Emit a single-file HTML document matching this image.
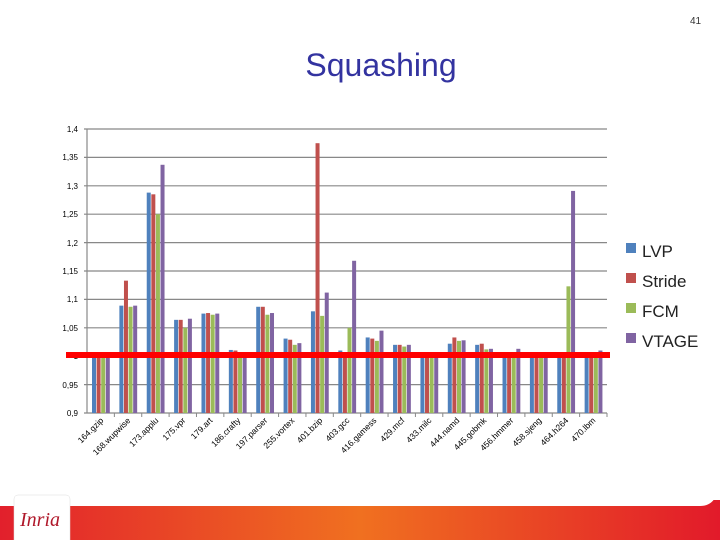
<!DOCTYPE html>
<html><head><meta charset="utf-8"><style>
html,body{margin:0;padding:0;width:720px;height:540px;overflow:hidden;background:#fff;font-family:"Liberation Sans",sans-serif}
</style></head><body>
<svg id="s" width="720" height="540" xmlns="http://www.w3.org/2000/svg">
<defs><linearGradient id="g" x1="0" x2="1"><stop offset="0" stop-color="#e2202c"/><stop offset="0.5" stop-color="#f07020"/><stop offset="1" stop-color="#e21a2a"/></linearGradient></defs>
<rect x="0" y="500" width="720" height="40" fill="url(#g)"/>
<path d="M0 0 H720 V480 Q718 506 700 506 H0 Z" fill="#fff"/>
<rect x="14" y="495" width="56" height="50" rx="4" fill="#fff" stroke="#ddd" stroke-width="0.5"/>
<text x="20" y="526" font-family="Liberation Serif,serif" font-style="italic" font-size="20" fill="#b0182a">Inria</text>
<text x="690" y="24" font-size="10" fill="#333">41</text>
<text x="381" y="76" font-size="32" fill="#3333a0" text-anchor="middle">Squashing</text>
<g id="grid" stroke="#888" stroke-width="1.2"></g>
<g font-size="8" fill="#000" text-anchor="end">
<text x="78" y="132">1,4</text><text x="78" y="160">1,35</text><text x="78" y="189">1,3</text><text x="78" y="217">1,25</text><text x="78" y="246">1,2</text><text x="78" y="274">1,15</text><text x="78" y="302">1,1</text><text x="78" y="331">1,05</text><text x="78" y="359">1</text><text x="78" y="388">0,95</text><text x="78" y="416">0,9</text>
</g>
<g id="bars"></g>
<rect x="66" y="352" width="544" height="6" fill="#f00"/>
<g font-size="8.5" fill="#000" text-anchor="end" id="labs">
<text transform="translate(104,421) rotate(-45)">164.gzip</text>
<text transform="translate(131,421) rotate(-45)">168.wupwise</text>
<text transform="translate(159,421) rotate(-45)">173.applu</text>
<text transform="translate(186,421) rotate(-45)">175.vpr</text>
<text transform="translate(213,421) rotate(-45)">179.art</text>
<text transform="translate(241,421) rotate(-45)">186.crafty</text>
<text transform="translate(268,421) rotate(-45)">197.parser</text>
<text transform="translate(295,421) rotate(-45)">255.vortex</text>
<text transform="translate(323,421) rotate(-45)">401.bzip</text>
<text transform="translate(350,421) rotate(-45)">403.gcc</text>
<text transform="translate(377,421) rotate(-45)">416.gamess</text>
<text transform="translate(405,421) rotate(-45)">429.mcf</text>
<text transform="translate(432,421) rotate(-45)">433.milc</text>
<text transform="translate(460,421) rotate(-45)">444.namd</text>
<text transform="translate(487,421) rotate(-45)">445.gobmk</text>
<text transform="translate(514,421) rotate(-45)">456.hmmer</text>
<text transform="translate(542,421) rotate(-45)">458.sjeng</text>
<text transform="translate(569,421) rotate(-45)">464.h264</text>
<text transform="translate(596,421) rotate(-45)">470.lbm</text>
</g>
<g font-size="17" fill="#222">
<rect x="626" y="243" width="10" height="10" fill="#4F81BD"/><text x="642" y="257">LVP</text>
<rect x="626" y="273" width="10" height="10" fill="#C0504D"/><text x="642" y="287">Stride</text>
<rect x="626" y="303" width="10" height="10" fill="#9BBB59"/><text x="642" y="317">FCM</text>
<rect x="626" y="333" width="10" height="10" fill="#8064A2"/><text x="642" y="347">VTAGE</text>
</g>
</svg>
<script>
var NS="http://www.w3.org/2000/svg";
function Y(v){return 413-(v-0.9)*568;}
var g=document.getElementById("grid");
for(var i=0;i<=10;i++){var l=document.createElementNS(NS,"line");var y=Y(0.9+i*0.05);l.setAttribute("x1",84);l.setAttribute("x2",607);l.setAttribute("y1",y);l.setAttribute("y2",y);g.appendChild(l);}
var ax=document.createElementNS(NS,"line");ax.setAttribute("x1",87);ax.setAttribute("x2",87);ax.setAttribute("y1",129);ax.setAttribute("y2",413);g.appendChild(ax);
var d=[[1,1,1,1],[1.089,1.133,1.087,1.089],[1.288,1.285,1.25,1.337],[1.064,1.064,1.05,1.066],[1.075,1.076,1.073,1.075],[1.011,1.01,1,1],[1.087,1.087,1.073,1.076],[1.031,1.029,1.02,1.023],[1.079,1.375,1.071,1.112],[1.01,1,1.05,1.168],[1.033,1.031,1.027,1.045],[1.02,1.02,1.017,1.02],[0.997,0.997,0.997,0.997],[1.022,1.033,1.027,1.028],[1.02,1.022,1.012,1.013],[1,1,1,1.013],[1,1,0.997,0.997],[1.005,1,1.123,1.291],[1,1,1,1.01]];
var c=["#4F81BD","#C0504D","#9BBB59","#8064A2"];
var b=document.getElementById("bars");var w=520/19;
for(var i=0;i<19;i++){var t=document.createElementNS(NS,"line");var tx=87+w*(i+1);t.setAttribute("x1",tx);t.setAttribute("x2",tx);t.setAttribute("y1",413);t.setAttribute("y2",417);t.setAttribute("stroke","#888");b.appendChild(t);
for(var k=0;k<4;k++){var r=document.createElementNS(NS,"rect");var x=87+w*i+5+k*4.6;var y=Y(d[i][k]);r.setAttribute("x",x);r.setAttribute("y",y);r.setAttribute("width",4);r.setAttribute("height",413-y);r.setAttribute("fill",c[k]);b.appendChild(r);}}
</script>
</body></html>
